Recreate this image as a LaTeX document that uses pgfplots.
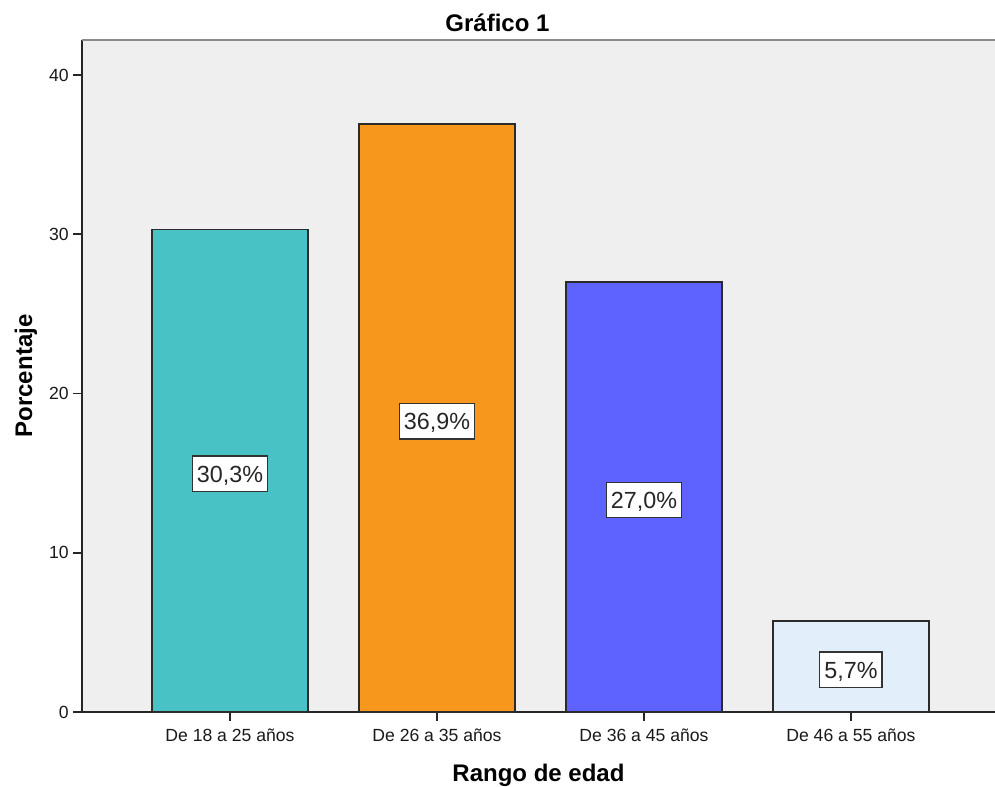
\documentclass[border=0pt]{standalone}
\usepackage{pgfplots}
\usepackage{pgfplotstable}
\pgfplotsset{compat=1.18}
\usepackage{fontspec}
\setmainfont{Liberation Sans}

\definecolor{plotbg}{HTML}{EFEFEF}
\definecolor{frametop}{HTML}{8A8A8A}
\definecolor{barA}{HTML}{48C2C5}
\definecolor{barB}{HTML}{F7981D}
\definecolor{barC}{HTML}{5E62FF}
\definecolor{barD}{HTML}{E2EEFA}
\definecolor{edge}{HTML}{2B2B2B}

% Porcentaje por rango de edad
\pgfplotstableread{
x v
0 30.3
1 36.9
2 27.0
3 5.7
}\edades

\pgfplotsset{
  agebar/.style={ybar, bar width=0.75, bar shift=0, fill=#1, draw=edge, line width=1.4pt},
}

\begin{document}
\begin{tikzpicture}
\path[use as bounding box] (0,0) rectangle (746.25pt,590.25pt);
\begin{axis}[
  at={(61.5pt,56.25pt)}, anchor=south west,
  width=684.75pt, height=504pt, scale only axis,
  xmin=-0.715, xmax=3.696, ymin=0, ymax=42.2,
  axis background/.style={fill=plotbg},
  axis x line*=bottom, axis y line*=left,
  axis line style={black!85, line width=1.2pt},
  tick align=outside, major tick length=6.5pt,
  tick style={black!85, line width=1.2pt},
  xtick={0,1,2,3},
  xticklabels={De 18 a 25 años, De 26 a 35 años, De 36 a 45 años, De 46 a 55 años},
  ytick={0,10,20,30,40},
  /pgf/number format/assume math mode=true,
  tick label style={font=\fontsize{13.2}{15}\selectfont, text=black!90},
  xticklabel style={yshift=-2.5pt},
  xlabel={Rango de edad},
  ylabel={Porcentaje},
  label style={font=\fontsize{18}{21}\selectfont\bfseries},
  xlabel style={yshift=-10pt},
  ylabel style={yshift=2pt},
  clip=false,
]
% upper frame line of the plot area
\draw[frametop, line width=1.6pt] (rel axis cs:0,1) -- (rel axis cs:1,1);

\addplot[agebar=barA, restrict x to domain=-0.1:0.1] table[x=x, y=v] {\edades};
\addplot[agebar=barB, restrict x to domain=0.9:1.1] table[x=x, y=v] {\edades};
\addplot[agebar=barC, restrict x to domain=1.9:2.1] table[x=x, y=v] {\edades};
\addplot[agebar=barD, restrict x to domain=2.9:3.1] table[x=x, y=v] {\edades};

% value labels at mid-height of each bar
\addplot[draw=none, mark=none, point meta=explicit,
  nodes near coords={\pgfmathprintnumber[fixed, fixed zerofill, precision=1, use comma]{\pgfplotspointmeta}\%},
  every node near coord/.style={anchor=center, yshift=-2.3pt, fill=white, draw=black!80,
    line width=1pt, inner xsep=3.4pt, inner ysep=7pt, text height=12.6pt, text depth=0pt,
    font=\fontsize{17.5}{20}\selectfont, text=black!85},
] table[x=x, y expr=\thisrow{v}/2, meta=v] {\edades};
\end{axis}
\node[anchor=base, font=\fontsize{18}{21}\selectfont\bfseries] at (373.1pt,566.25pt) {Gráfico 1};
\end{tikzpicture}
\end{document}
